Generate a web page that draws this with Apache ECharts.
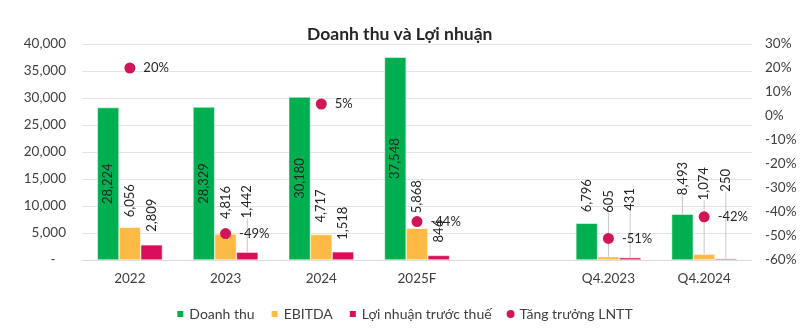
<!DOCTYPE html>
<html>
<head>
<meta charset="utf-8">
<script src="https://cdn.jsdelivr.net/npm/echarts@6/dist/echarts.min.js"></script>
<style>
html,body{margin:0;padding:0;background:#fff;}
#chart{width:808px;height:332px;}
</style>
</head>
<body>
<div id="chart"></div>
<script>
// ---- data ----
const categories = ['2022', '2023', '2024', '2025F', '', 'Q4.2023', 'Q4.2024'];
const revenue = [28224, 28329, 30180, 37548, null, 6796, 8493];
const ebitda = [6056, 4816, 4717, 5868, null, 605, 1074];
const profit = [2809, 1442, 1518, 846, null, 431, 250];
const growth = [20, -49, 5, -44, null, -51, -42];
const leftTicks = [0, 40000, 5000];   // min, max, interval
const rightTicks = [-60, 30, 10];     // min, max, interval (%)

// ---- label styling: gap between bar top and label (px); leader line when far ----
const labelGap = {
  0: {5: 11, 6: 19},
  1: {0: 10, 1: 15, 2: 12, 3: 15, 5: 44, 6: 54},
  2: {0: 13, 1: 34, 2: 12, 3: 13, 5: 47, 6: 67}
};
const leaderFrom = 18;

const fontFam = 'Lato, "Noto Sans", sans-serif';
const txt = '#404040';
const fmt = v => Number(v).toLocaleString('en-US');

function barData(values, sIdx, insideUpTo) {
  return values.map((v, i) => {
    if (v == null) return '-';
    const item = {value: v};
    const inside = i < insideUpTo;
    const gap = (labelGap[sIdx] && labelGap[sIdx][i] != null) ? labelGap[sIdx][i] : 11;
    item.label = inside
      ? {position: 'inside', rotate: 90, align: 'center', verticalAlign: 'middle'}
      : {position: 'top', rotate: 90, align: 'left', verticalAlign: 'middle', distance: gap};
    if (!inside && gap >= leaderFrom) {
      item.labelLine = {show: true, length2: 0, smooth: false, lineStyle: {color: '#c8c8c8', width: 1}};
    }
    return item;
  });
}

const barLabel = {
  show: true,
  color: '#262626',
  fontFamily: fontFam,
  fontSize: 13,
  formatter: p => fmt(p.value)
};

const chart = echarts.init(document.getElementById('chart'), null, {renderer: 'canvas'});
chart.setOption({
  animation: false,
  backgroundColor: '#fff',
  title: {
    text: 'Doanh thu và Lợi nhuận',
    left: 302,
    top: 20,
    textStyle: {fontFamily: fontFam, fontSize: 17.5, fontWeight: 'bold', color: '#262626'}
  },
  legend: {
    bottom: 6,
    left: 'center',
    itemWidth: 8,
    itemHeight: 8,
    itemGap: 15,
    textStyle: {fontFamily: fontFam, fontSize: 14, color: txt},
    data: [
      {name: 'Doanh thu', icon: 'rect'},
      {name: 'EBITDA', icon: 'rect'},
      {name: 'Lợi nhuận trước thuế', icon: 'rect'},
      {name: 'Tăng trưởng LNTT', icon: 'circle'}
    ]
  },
  grid: {left: 82, right: 56, top: 44, bottom: 72, containLabel: false},
  xAxis: {
    type: 'category',
    data: categories,
    axisTick: {show: false},
    axisLine: {lineStyle: {color: '#d9d9d9', width: 1}},
    axisLabel: {fontFamily: fontFam, fontSize: 13.5, color: txt, margin: 12}
  },
  yAxis: [
    {
      type: 'value',
      min: leftTicks[0], max: leftTicks[1], interval: leftTicks[2],
      axisLine: {show: false}, axisTick: {show: false},
      splitLine: {lineStyle: {color: '#e4e4e4', width: 1}},
      axisLabel: {fontFamily: fontFam, fontSize: 13.5, color: txt, margin: 16,
        formatter: v => v === 0 ? '-   ' : fmt(v)}
    },
    {
      type: 'value',
      min: rightTicks[0], max: rightTicks[1], interval: rightTicks[2],
      axisLine: {show: false}, axisTick: {show: false},
      splitLine: {show: false},
      axisLabel: {fontFamily: fontFam, fontSize: 13.5, color: txt, margin: 13,
        formatter: v => v + '%'}
    }
  ],
  series: [
    {
      name: 'Doanh thu', type: 'bar', barGap: '0%', barCategoryGap: '32%',
      itemStyle: {color: '#00B050', borderColor: '#ffffff', borderWidth: 0.5},
      label: barLabel,
      data: barData(revenue, 0, 4)
    },
    {
      name: 'EBITDA', type: 'bar', barGap: '0%', barCategoryGap: '32%',
      itemStyle: {color: '#FDBA45', borderColor: '#ffffff', borderWidth: 0.5},
      label: barLabel,
      data: barData(ebitda, 1, 0)
    },
    {
      name: 'Lợi nhuận trước thuế', type: 'bar', barGap: '0%', barCategoryGap: '32%',
      itemStyle: {color: '#DA0F5B', borderColor: '#ffffff', borderWidth: 0.5},
      label: barLabel,
      data: barData(profit, 2, 0)
    },
    {
      name: 'Tăng trưởng LNTT', type: 'scatter', yAxisIndex: 1,
      symbol: 'circle', symbolSize: 11,
      itemStyle: {color: '#D01659', opacity: 1},
      label: {show: true, position: 'right', distance: 8, fontFamily: fontFam,
        fontSize: 13, color: '#262626', formatter: p => p.value + '%'},
      data: growth.map(v => v == null ? '-' : v),
      z: 5
    }
  ]
});
</script>
</body>
</html>
